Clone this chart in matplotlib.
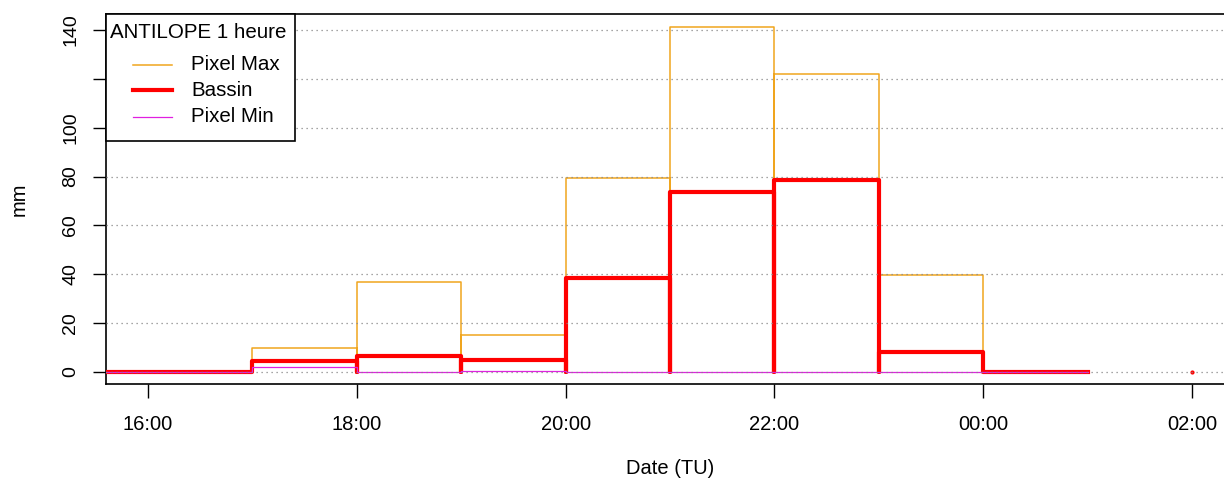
import numpy as np
import matplotlib
matplotlib.use("Agg")
import matplotlib.pyplot as plt
from matplotlib.lines import Line2D
from matplotlib.patches import Rectangle

plt.rcParams['font.family'] = ['Liberation Sans', 'DejaVu Sans']

# hourly accumulations (start hour of each 1 h step; 24 = 00:00 next day)
hours = [15, 16, 17, 18, 19, 20, 21, 22, 23, 24]
pixel_max = [0, 0, 10, 37, 15, 79.5, 141, 122, 39.5, 0]
bassin = [0, 0, 4.5, 6.5, 5, 38.5, 73.5, 78.5, 8, 0]
pixel_min = [0, 0, 2.2, 0, 0.4, 0, 0, 0, 0, 0]
last_hour = [26]
last_bassin = [0]

tick_hours = [16, 18, 20, 22, 24, 26]
tick_labels = ["16:00", "18:00", "20:00", "22:00", "00:00", "02:00"]
y_ticks = [0, 20, 40, 60, 80, 100, 120, 140]
y_labels = ["0", "20", "40", "60", "80", "100", "", "140"]

series_names = ["Pixel Max", "Bassin", "Pixel Min"]
colors = ["#f0a51e", "#ff0000", "#e020e0"]
widths = [1.1, 3.0, 0.9]


def outline(starts, vals):
    # each hour drawn as a box standing on zero
    xs, ys = [], []
    for t, v in zip(starts, vals):
        xs += [t, t, t + 1, t + 1]
        ys += [0, v, v, 0]
    return xs, ys


W, H = 1224, 486
fig = plt.figure(figsize=(W / 100, H / 100), dpi=100)


def fx(x):
    return x / W


def fy(y):
    return 1 - y / H


ax = fig.add_axes([106 / W, 102 / H, 1.01 - 106 / W, 370 / H])

for vals, c, lw, z in zip([pixel_max, bassin, pixel_min], colors, widths, [2, 3, 4]):
    x, y = outline(hours, vals)
    ax.plot(x, y, color=c, lw=lw, zorder=z)
ax.plot(last_hour, last_bassin, "o", color="#ff0000", ms=2, zorder=3)

for v in y_ticks:
    ax.axhline(v, color="#888888", lw=0.9, ls=(0, (1, 3)), zorder=5)

ax.set_xlim(15.598, 15.598 + (1.01 * W - 106) / 104.4)
ax.set_ylim(-4.91, 146.5)

ax.set_xticks(tick_hours)
ax.set_xticklabels(tick_labels, fontsize=14.5)
ax.set_yticks(y_ticks)
ax.set_yticklabels(y_labels, fontsize=14, rotation=90, va="center")
ax.tick_params(axis="x", length=10, width=1, pad=12)
ax.tick_params(axis="y", length=9.4, width=1, pad=10)

for s in ["left", "bottom", "top"]:
    ax.spines[s].set_linewidth(1.2)
ax.spines["right"].set_visible(False)

# plot region of the original runs past the right edge, so the label sits right of centre
fig.text(fx(670), fy(468), "Date (TU)", fontsize=14.5, ha="center", va="center")
fig.text(fx(19), fy(199), "mm", fontsize=14.5, ha="center", va="center",
         rotation=90)

# legend box drawn by hand to match the R layout
fig.add_artist(Rectangle((fx(106), fy(141)), fx(295) - fx(106), fy(14) - fy(141),
                         transform=fig.transFigure, facecolor="white",
                         edgecolor="black", lw=1.2, zorder=10))
fig.text(fx(110), fy(33), "ANTILOPE 1 heure", fontsize=14.8, va="center",
         zorder=11)
for row, name, c, lw in zip([65, 90, 117], series_names, colors, widths):
    fig.add_artist(Line2D([fx(133), fx(172)], [fy(row), fy(row)],
                          transform=fig.transFigure, color=c, lw=lw, zorder=11))
    fig.text(fx(191), fy(row), name, fontsize=14.8, va="center", zorder=11)

fig.savefig("out.png", dpi=100)
